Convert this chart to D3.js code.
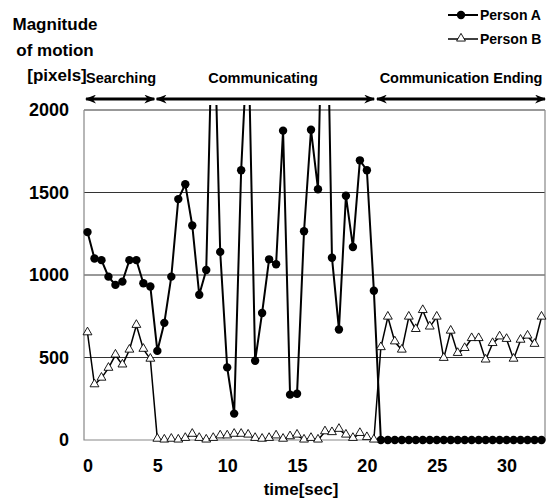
<!DOCTYPE html>
<html>
<head>
<meta charset="utf-8">
<script src="https://cdn.jsdelivr.net/npm/d3@7"></script>
<style>
  body { margin: 0; background: white; }
  text { font-family: "Liberation Sans", Arial, sans-serif; font-weight: bold; fill: black; }
</style>
</head>
<body>
<div id="chart"></div>
<script>
// time of each sample [sec]
var time = [0, 0.5, 1, 1.5, 2, 2.5, 3, 3.5, 4, 4.5,
            5, 5.5, 6, 6.5, 7, 7.5, 8, 8.5, 9, 9.5,
            10, 10.5, 11, 11.5, 12, 12.5, 13, 13.5, 14, 14.5,
            15, 15.5, 16, 16.5, 17, 17.5, 18, 18.5, 19, 19.5,
            20, 20.5, 21, 21.5, 22, 22.5, 23, 23.5, 24, 24.5,
            25, 25.5, 26, 26.5, 27, 27.5, 28, 28.5, 29, 29.5,
            30, 30.5, 31, 31.5, 32, 32.5]

var personA = [1260, 1100, 1090, 990, 940, 960, 1090, 1090, 950, 930,
               540, 710, 990, 1460, 1550, 1300, 880, 1030, 2800, 1140,
               440, 160, 1635, 2500, 480, 770, 1095, 1065, 1875, 275,
               280, 1265, 1880, 1520, 3500, 1105, 670, 1480, 1170, 1695,
               1635, 905, 0, 0, 0, 0, 0, 0, 0, 0,
               0, 0, 0, 0, 0, 0, 0, 0, 0, 0,
               0, 0, 0, 0, 0, 0]

var personB = [650, 335, 375, 435, 515, 455, 545, 695, 550, 490,
               5, 0, 5, 0, 10, 35, 10, 0, 10, 25,
               25, 35, 35, 30, 10, 5, 10, 25, 5, 20,
               30, 0, 10, 0, 50, 45, 65, 30, 10, 40,
               15, 0, 560, 745, 595, 545, 745, 670, 785, 685,
               745, 495, 660, 525, 555, 615, 615, 485, 585, 625,
               610, 490, 605, 630, 580, 745]

var yTicks = [0, 500, 1000, 1500, 2000]
var xTicks = [0, 5, 10, 15, 20, 25, 30]

var phaseNames = ['Searching', 'Communicating', 'Communication Ending']
var phaseStart = [-0.1, 4.95, 20.72]
var phaseEnd = [4.78, 20.52, 32.75]

var width = 549, height = 501
var margin = {top: 110, bottom: 61, left: 84, right: 4}

var svg = d3.select('#chart')
    .append('svg')
    .attr('width', width)
    .attr('height', height)
    .style('background', 'white')

var x = d3.scaleLinear()
    .domain([-0.25, 32.75])
    .range([margin.left, width - margin.right])

var y = d3.scaleLinear()
    .domain([0, 2000])
    .range([height - margin.bottom, margin.top])

// gridlines
svg.append('g')
  .selectAll('line')
  .data(yTicks.filter(d => d > 0))
  .join('line')
    .attr('x1', margin.left)
    .attr('x2', width - margin.right)
    .attr('y1', d => y(d))
    .attr('y2', d => y(d))
    .attr('stroke', '#333')
    .attr('stroke-width', 1)

// plot frame (left, bottom, right)
svg.append('path')
    .attr('d', `M${margin.left},${y(2000)}V${y(0)}H${width - margin.right}V${y(2000)}`)
    .attr('fill', 'none')
    .attr('stroke', '#888')
    .attr('stroke-width', 1.2)

// y axis labels
var yAxis = svg.append('g')
    .attr('transform', `translate(${margin.left}, 0)`)
    .call(d3.axisLeft(y).tickValues(yTicks).tickFormat(d3.format('d')).tickSize(0).tickPadding(15))
yAxis.select('.domain').remove()
yAxis.selectAll('text')
    .attr('font-size', '18px')
    .attr('font-family', '"Liberation Sans", Arial, sans-serif')
    .attr('font-weight', 'bold')
    .attr('fill', 'black')

// x axis labels
var xAxis = svg.append('g')
    .attr('transform', `translate(0, ${y(0)})`)
    .call(d3.axisBottom(x).tickValues(xTicks).tickSize(0).tickPadding(19))
xAxis.select('.domain').remove()
xAxis.selectAll('text')
    .attr('font-size', '18px')
    .attr('font-family', '"Liberation Sans", Arial, sans-serif')
    .attr('font-weight', 'bold')
    .attr('fill', 'black')

svg.append('text')
    .attr('x', 301)
    .attr('y', 495)
    .attr('text-anchor', 'middle')
    .attr('font-size', '17px')
    .text('time[sec]')

// y title
var ytitle = ['Magnitude', 'of motion', '[pixels]']
svg.append('g')
  .selectAll('text')
  .data(ytitle)
  .join('text')
    .attr('x', (d, i) => i == 2 ? 57 : 55)
    .attr('y', (d, i) => 30 + i * 25.5)
    .attr('text-anchor', 'middle')
    .attr('font-size', '17px')
    .text(d => d)

// clip for values above 2000
svg.append('clipPath')
    .attr('id', 'plotclip')
  .append('rect')
    .attr('x', margin.left - 10)
    .attr('y', y(2000) - 5)
    .attr('width', width - margin.left + 10)
    .attr('height', y(0) - y(2000) + 30)

var plot = svg.append('g').attr('clip-path', 'url(#plotclip)')

var dataA = time.map((t, i) => ({t: t, v: personA[i]}))
var dataB = time.map((t, i) => ({t: t, v: personB[i]}))

var line = d3.line()
    .x(d => x(d.t))
    .y(d => y(d.v))

var tri = d3.symbol().type(d3.symbolTriangle).size(34)

// Person A
plot.append('path')
    .datum(dataA)
    .attr('d', line)
    .attr('fill', 'none')
    .attr('stroke', 'black')
    .attr('stroke-width', 2)
plot.append('g')
  .selectAll('circle')
  .data(dataA)
  .join('circle')
    .attr('cx', d => x(d.t))
    .attr('cy', d => y(d.v))
    .attr('r', 4.2)
    .attr('fill', 'black')

// Person B
plot.append('path')
    .datum(dataB)
    .attr('d', line)
    .attr('fill', 'none')
    .attr('stroke', 'black')
    .attr('stroke-width', 1.5)
plot.append('g')
  .selectAll('path')
  .data(dataB)
  .join('path')
    .attr('d', tri)
    .attr('transform', d => `translate(${x(d.t)},${y(d.v) - 0.5})`)
    .attr('fill', 'white')
    .attr('stroke', 'black')
    .attr('stroke-width', 0.9)

// phase arrows
var arrowY = 99
svg.append('defs').append('marker')
    .attr('id', 'ah')
    .attr('viewBox', '0 0 10 8')
    .attr('refX', 9)
    .attr('refY', 4)
    .attr('markerWidth', 11)
    .attr('markerHeight', 9)
    .attr('markerUnits', 'userSpaceOnUse')
    .attr('orient', 'auto-start-reverse')
  .append('path')
    .attr('d', 'M0,0L10,4L0,8L3,4Z')
    .attr('fill', 'black')

svg.append('g')
  .selectAll('line')
  .data(phaseNames)
  .join('line')
    .attr('x1', (d, i) => x(phaseStart[i]))
    .attr('x2', (d, i) => x(phaseEnd[i]))
    .attr('y1', arrowY)
    .attr('y2', arrowY)
    .attr('stroke', 'black')
    .attr('stroke-width', 3)
    .attr('marker-start', 'url(#ah)')
    .attr('marker-end', 'url(#ah)')

var phaseLabelX = [86, 263, 461]
var phaseAnchor = ['start', 'middle', 'middle']
svg.append('g')
  .selectAll('text')
  .data(phaseNames)
  .join('text')
    .attr('x', (d, i) => phaseLabelX[i])
    .attr('y', 83)
    .attr('text-anchor', (d, i) => phaseAnchor[i])
    .attr('font-size', '14.5px')
    .text(d => d)

// legend
var legend = svg.append('g')
var legNames = ['Person A', 'Person B']
legNames.forEach(function(name, i){
    var ly = 15 + i * 24
    legend.append('line')
        .attr('x1', 448).attr('x2', 478)
        .attr('y1', ly).attr('y2', ly)
        .attr('stroke', 'black')
        .attr('stroke-width', i == 0 ? 2 : 1.5)
    if(i == 0){
        legend.append('circle')
            .attr('cx', 461).attr('cy', ly).attr('r', 4.2)
            .attr('fill', 'black')
    }else{
        legend.append('path')
            .attr('d', tri)
            .attr('transform', `translate(461,${ly - 0.5})`)
            .attr('fill', 'white')
            .attr('stroke', 'black')
            .attr('stroke-width', 0.9)
    }
    legend.append('text')
        .attr('x', 480)
        .attr('y', ly + 5)
        .attr('font-size', '14px')
        .text(name)
})
</script>
</body>
</html>
